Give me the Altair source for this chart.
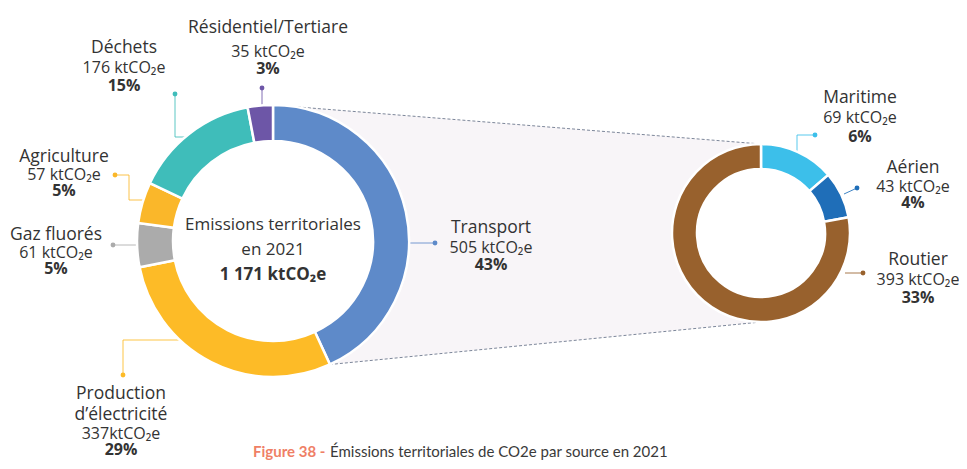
import math
import altair as alt
import pandas as pd

# ---------------- data ----------------
main_cats = ["Transport", "Production d'électricité", "Gaz fluorés", "Agriculture",
             "Déchets", "Résidentiel/Tertiare"]
main_vals = [505, 337, 61, 57, 176, 35]
main_value_labels = ["505 ktCO₂e", "337ktCO₂e", "61 ktCO₂e", "57 ktCO₂e", "176 ktCO₂e", "35 ktCO₂e"]
main_pct_labels = ["43%", "29%", "5%", "5%", "15%", "3%"]
main_name_labels = [["Transport"], ["Production", "d’électricité"], ["Gaz fluorés"],
                    ["Agriculture"], ["Déchets"], ["Résidentiel/Tertiare"]]

sub_cats = ["Maritime", "Aérien", "Routier"]
sub_vals = [69, 43, 393]
sub_value_labels = ["69 ktCO₂e", "43 ktCO₂e", "393 ktCO₂e"]
sub_pct_labels = ["6%", "4%", "33%"]

center_lines = ["Emissions territoriales", "en 2021", "1 171 ktCO₂e"]
caption_fig = "Figure 38 -"
caption_text = "Émissions territoriales de CO2e par source en 2021"

# ---------------- styles / layout ----------------
main_colors = ["#5E8AC9", "#FDBB27", "#ABABAB", "#FAB72A", "#3FBDBA", "#6D56A7"]
sub_colors = ["#3CBFEA", "#1F6EB8", "#98612D"]
all_cats = main_cats + sub_cats
color_scale = alt.Scale(domain=all_cats, range=main_colors + sub_colors)

OFF = 8  # page margin
W, H = 951, 453
C1, R1, r1 = (273, 241), 136, 100
C2, R2, r2 = (761, 233), 89, 64
FONT = "Open Sans"
TXT = "#333333"

# label anchors (centre x, baselines) in page pixels
label_pos = {
    "Transport": (491, [233, 253, 270]),
    "Production d'électricité": (121, [399, 420, 439, 455]),
    "Gaz fluorés": (56, [240, 258, 274]),
    "Agriculture": (64, [162, 180, 196]),
    "Déchets": (124, [53, 73, 91]),
    "Résidentiel/Tertiare": (268, [33, 57, 74]),
    "Maritime": (860, [103, 123, 142]),
    "Aérien": (913, [173, 192, 208]),
    "Routier": (918, [265, 285, 303]),
}
leaders = {
    "Résidentiel/Tertiare": [(262, 88), (262, 108)],
    "Déchets": [(175, 94), (175, 137), (187, 137)],
    "Agriculture": [(115, 175), (129, 175), (129, 200), (143, 200)],
    "Gaz fluorés": [(113, 245), (141, 245)],
    "Production d'électricité": [(123, 375), (123, 340), (182, 340)],
    "Transport": [(435, 243), (405, 243)],
    "Maritime": [(815, 135), (797, 135), (797, 160)],
    "Aérien": [(857, 188), (844, 194)],
    "Routier": [(863, 273), (845, 273)],
}

# ---------------- tables ----------------
df_main = pd.DataFrame({"cat": main_cats, "value": main_vals, "order": range(len(main_cats))})
df_sub = pd.DataFrame({"cat": sub_cats, "value": sub_vals, "order": range(len(sub_cats))})

# connecting wedge between the transport slice and the detail donut
theta_end = 2 * math.pi * main_vals[0] / sum(main_vals)
lt = (C1[0], C1[1] - R1)
lb = (C1[0] + R1 * math.sin(theta_end), C1[1] - R1 * math.cos(theta_end))
rt = (C2[0], C2[1] - R2)
rb = (C2[0], C2[1] + R2)
slope_b = (rb[1] - lb[1]) / (rb[0] - lb[0])
lb_ext = lb[1] + (lt[0] - lb[0]) * slope_b
df_area = pd.DataFrame({"x": [lt[0] - OFF, rt[0] - OFF],
                        "y": [lt[1] - OFF, rt[1] - OFF],
                        "y2": [lb_ext - OFF, rb[1] - OFF]})
df_rules = pd.DataFrame({"x": [lt[0] - OFF, lb[0] - OFF], "y": [lt[1] - OFF, lb[1] - OFF],
                         "x2": [rt[0] - OFF, rb[0] - OFF], "y2": [rt[1] - OFF, rb[1] - OFF]})

rows = []
for cat, pts in leaders.items():
    for i, (px, py) in enumerate(pts):
        rows.append({"cat": cat, "seq": i, "x": px - OFF, "y": py - OFF})
df_lead = pd.DataFrame(rows)
df_dots = df_lead[df_lead["seq"] == 0]

names = {c: n for c, n in zip(main_cats, main_name_labels)}
names.update({c: [c] for c in sub_cats})
values = dict(zip(all_cats, main_value_labels + sub_value_labels))
pcts = dict(zip(all_cats, main_pct_labels + sub_pct_labels))
name_rows, val_rows, pct_rows = [], [], []
for cat in all_cats:
    cx, ys = label_pos[cat]
    nl = names[cat]
    for i, t in enumerate(nl):
        name_rows.append({"x": cx - OFF, "y": ys[i] - OFF, "text": t})
    val_rows.append({"x": cx - OFF, "y": ys[len(nl)] - OFF, "text": values[cat]})
    pct_rows.append({"x": cx - OFF, "y": ys[len(nl) + 1] - OFF, "text": pcts[cat]})
df_names = pd.DataFrame(name_rows)
df_vals = pd.DataFrame(val_rows)
df_pcts = pd.DataFrame(pct_rows)

center_y = [230, 255, 280]
df_center = pd.DataFrame({"x": [C1[0] - OFF] * 2, "y": [y - OFF for y in center_y[:2]],
                          "text": center_lines[:2]})
df_center_b = pd.DataFrame({"x": [C1[0] - OFF], "y": [center_y[2] - OFF], "text": [center_lines[2]]})

X = lambda: alt.X("x:Q", scale=None)
Y = lambda: alt.Y("y:Q", scale=None)

# ---------------- layers ----------------
area = alt.Chart(df_area).mark_area(color="#F8F5F8").encode(x=X(), y=Y(), y2="y2:Q")
rules = alt.Chart(df_rules).mark_rule(color="#7D879A", strokeWidth=1, strokeDash=[3, 2]).encode(
    x=X(), y=Y(), x2="x2:Q", y2="y2:Q")

disk1 = alt.Chart(pd.DataFrame({"a": [0]})).mark_arc(
    theta=0, theta2=2 * math.pi, outerRadius=R1, innerRadius=0, color="white").encode(
    x=alt.value(C1[0] - OFF), y=alt.value(C1[1] - OFF))
disk2 = alt.Chart(pd.DataFrame({"a": [0]})).mark_arc(
    theta=0, theta2=2 * math.pi, outerRadius=R2, innerRadius=0, color="white").encode(
    x=alt.value(C2[0] - OFF), y=alt.value(C2[1] - OFF))

lead = alt.Chart(df_lead).mark_line(strokeWidth=1, opacity=0.85).encode(
    x=X(), y=Y(), detail="cat:N", order=alt.Order("seq:Q"),
    color=alt.Color("cat:N", scale=color_scale, legend=None))
dots = alt.Chart(df_dots).mark_circle(size=24, opacity=1).encode(
    x=X(), y=Y(), color=alt.Color("cat:N", scale=color_scale, legend=None))

arc_main = alt.Chart(df_main).mark_arc(outerRadius=R1, innerRadius=r1, stroke="white", strokeWidth=2.5).encode(
    theta=alt.Theta("value:Q", stack=True), order=alt.Order("order:Q"),
    color=alt.Color("cat:N", scale=color_scale, legend=None),
    x=alt.value(C1[0] - OFF), y=alt.value(C1[1] - OFF))
arc_sub = alt.Chart(df_sub).mark_arc(outerRadius=R2, innerRadius=r2, stroke="white", strokeWidth=2.5).encode(
    theta=alt.Theta("value:Q", stack=True), order=alt.Order("order:Q"),
    color=alt.Color("cat:N", scale=color_scale, legend=None),
    x=alt.value(C2[0] - OFF), y=alt.value(C2[1] - OFF))

txt_names = alt.Chart(df_names).mark_text(font=FONT, fontSize=17.5, color=TXT, align="center",
                                          baseline="alphabetic").encode(x=X(), y=Y(), text="text:N")
txt_vals = alt.Chart(df_vals).mark_text(font=FONT, fontSize=16, color=TXT, align="center",
                                        baseline="alphabetic").encode(x=X(), y=Y(), text="text:N")
txt_pcts = alt.Chart(df_pcts).mark_text(font=FONT, fontSize=16, fontWeight="bold", color=TXT,
                                        align="center", baseline="alphabetic").encode(
    x=X(), y=Y(), text="text:N")
txt_center = alt.Chart(df_center).mark_text(font=FONT, fontSize=17, color=TXT, align="center",
                                            baseline="alphabetic").encode(x=X(), y=Y(), text="text:N")
txt_center_b = alt.Chart(df_center_b).mark_text(font=FONT, fontSize=17, fontWeight="bold", color=TXT,
                                                align="center", baseline="alphabetic").encode(
    x=X(), y=Y(), text="text:N")

cap1 = alt.Chart(pd.DataFrame({"x": [253 - OFF], "y": [457 - OFF], "text": [caption_fig]})).mark_text(
    font="Lato", fontSize=15, fontWeight="bold", color="#EF7F66", align="left", baseline="alphabetic").encode(
    x=X(), y=Y(), text="text:N")
cap2 = alt.Chart(pd.DataFrame({"x": [330 - OFF], "y": [457 - OFF], "text": [caption_text]})).mark_text(
    font="Lato", fontSize=15, color="#3A3A3A", align="left", baseline="alphabetic").encode(
    x=X(), y=Y(), text="text:N")

chart = alt.layer(
    area, rules, disk1, disk2, lead, dots, arc_main, arc_sub,
    txt_names, txt_vals, txt_pcts, txt_center, txt_center_b, cap1, cap2
).resolve_scale(theta="independent").properties(
    width=W, height=H, padding=0, autosize=alt.AutoSizeParams(type="none"),
    background="white"
).configure_view(strokeWidth=0)

chart.save("out.html", embed_options={"renderer": "svg", "actions": False})
